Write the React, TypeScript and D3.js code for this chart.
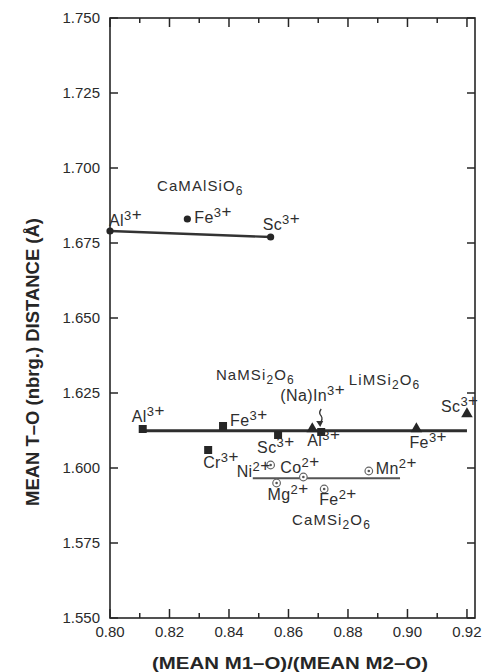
import { useEffect, useRef } from 'react';
import * as d3 from 'd3';

// CaMAlSiO6 (filled circles)
const alsiIons = ['Al', 'Fe', 'Sc'];
const alsiX = [0.8, 0.826, 0.854];
const alsiY = [1.679, 1.683, 1.677];

// NaMSi2O6 (squares)
const naIons = ['Al', 'Fe', 'Sc', 'Cr', '(Na)In'];
const naX = [0.811, 0.838, 0.8565, 0.833, 0.871];
const naY = [1.613, 1.614, 1.611, 1.606, 1.612];

// LiMSi2O6 (triangles)
const liIons = ['Al', 'Fe', 'Sc'];
const liX = [0.868, 0.903, 0.92];
const liY = [1.613, 1.613, 1.618];

// CaMSi2O6 (dotted circles)
const caIons = ['Ni', 'Co', 'Mg', 'Fe', 'Mn'];
const caX = [0.854, 0.865, 0.856, 0.872, 0.887];
const caY = [1.601, 1.597, 1.595, 1.593, 1.599];

// trend lines
const alsiLineX = [0.8, 0.854];
const alsiLineY = [1.679, 1.677];
const naLiLineX = [0.811, 0.92];
const naLiLineY = [1.6124, 1.6124];
const caLineX = [0.848, 0.8975];
const caLineY = [1.5966, 1.5966];

// group names
const groupNames = ['CaMAlSiO6', 'NaMSi2O6', 'LiMSi2O6', 'CaMSi2O6'];
const groupX = [0.8158, 0.8356, 0.8803, 0.8612];
const groupY = [1.6923, 1.6293, 1.6277, 1.581];

const yTicks = [1.55, 1.575, 1.6, 1.625, 1.65, 1.675, 1.7, 1.725, 1.75];
const xTicks = [0.8, 0.82, 0.84, 0.86, 0.88, 0.9, 0.92];
const xMinorTicks = [0.81, 0.83, 0.85, 0.87, 0.89, 0.91];

// label offsets (px) from each marker
const alsiOff = [[-1, -5], [7, 4], [-8, -7]];
const naOff = [[-11, -7], [7, 0], [-21, 18], [-5, 18], [-41, -31]];
const liOff = [[-5, 17], [-7, 19], [-26, -2]];
const caOff = [[-34, 12], [-23, -4], [-9, 17], [-5, 16], [7, 3]];

const FONT = "'Liberation Sans', Arial, Helvetica, sans-serif";
const INK = '#262626';

const App = () => {
  const ref = useRef<SVGSVGElement>(null);

  useEffect(() => {
    const svg = d3.select(ref.current);
    svg.selectAll('*').remove();

    const left = 110, right = 475, top = 18, bottom = 618;
    const x = d3.scaleLinear().domain([0.8, 0.9227]).range([left, right]);
    const y = d3.scaleLinear().domain([1.55, 1.75]).range([bottom, top]);

    svg.append('rect').attr('width', 483).attr('height', 672).attr('fill', '#fff');

    // frame
    svg.append('rect')
      .attr('x', left).attr('y', top)
      .attr('width', right - left).attr('height', bottom - top)
      .attr('fill', 'none').attr('stroke', INK).attr('stroke-width', 1.6);

    const ticks = svg.append('g').attr('stroke', INK).attr('stroke-width', 1.5);
    yTicks.forEach(t => {
      ticks.append('line').attr('x1', left).attr('x2', left + 8).attr('y1', y(t)).attr('y2', y(t));
      ticks.append('line').attr('x1', right).attr('x2', right - 8).attr('y1', y(t)).attr('y2', y(t));
    });
    xTicks.forEach(t => {
      ticks.append('line').attr('x1', x(t)).attr('x2', x(t)).attr('y1', bottom).attr('y2', bottom - 9);
      ticks.append('line').attr('x1', x(t)).attr('x2', x(t)).attr('y1', top).attr('y2', top + 9);
    });
    xMinorTicks.forEach(t => {
      ticks.append('line').attr('x1', x(t)).attr('x2', x(t)).attr('y1', bottom).attr('y2', bottom - 5);
      ticks.append('line').attr('x1', x(t)).attr('x2', x(t)).attr('y1', top).attr('y2', top + 5);
    });

    // tick labels
    svg.append('g').selectAll('text').data(yTicks).enter().append('text')
      .attr('x', 100).attr('y', d => y(d)).attr('dy', '0.35em')
      .attr('text-anchor', 'end').attr('font-family', FONT).attr('font-size', 15)
      .attr('fill', '#2a2a2a').text(d => d3.format('.3f')(d));
    svg.append('g').selectAll('text').data(xTicks).enter().append('text')
      .attr('x', d => x(d)).attr('y', 637)
      .attr('text-anchor', 'middle').attr('font-family', FONT).attr('font-size', 15)
      .attr('fill', '#2a2a2a').text(d => d3.format('.2f')(d));

    // axis titles
    svg.append('text')
      .attr('x', 290).attr('y', 669).attr('text-anchor', 'middle')
      .attr('font-family', FONT).attr('font-weight', 'bold').attr('font-size', 17)
      .attr('fill', INK).attr('textLength', 276).attr('lengthAdjust', 'spacingAndGlyphs')
      .text('(MEAN M1–O)/(MEAN M2–O)');
    svg.append('text')
      .attr('transform', 'translate(39,362) rotate(-90)').attr('text-anchor', 'middle')
      .attr('font-family', FONT).attr('font-weight', 'bold').attr('font-size', 18)
      .attr('fill', INK).attr('textLength', 288).attr('lengthAdjust', 'spacingAndGlyphs')
      .text('MEAN T–O (nbrg.) DISTANCE (Å)');

    // trend lines
    const line = d3.line<number>().x(d => d[0]).y(d => d[1]);
    const drawLine = (xs: number[], ys: number[], w: number, c: string) => {
      svg.append('path')
        .attr('d', line(xs.map((v, i) => [x(v), y(ys[i])]) as any))
        .attr('fill', 'none').attr('stroke', c).attr('stroke-width', w);
    };
    drawLine(alsiLineX, alsiLineY, 2.4, '#333');
    drawLine(naLiLineX, naLiLineY, 3, '#2e2e2e');
    drawLine(caLineX, caLineY, 2, '#555');

    // markers
    alsiX.forEach((v, i) => {
      svg.append('circle').attr('cx', x(v)).attr('cy', y(alsiY[i])).attr('r', 3.6).attr('fill', INK);
    });
    naX.forEach((v, i) => {
      svg.append('rect').attr('x', x(v) - 4).attr('y', y(naY[i]) - 4)
        .attr('width', 8).attr('height', 8).attr('fill', INK);
    });
    const tri = d3.symbol().type(d3.symbolTriangle).size(58);
    liX.forEach((v, i) => {
      svg.append('path').attr('d', tri() as string)
        .attr('transform', `translate(${x(v)},${y(liY[i])})`).attr('fill', INK);
    });
    caX.forEach((v, i) => {
      svg.append('circle').attr('cx', x(v)).attr('cy', y(caY[i])).attr('r', 3.8)
        .attr('fill', '#fff').attr('stroke', '#666').attr('stroke-width', 1.2);
      svg.append('circle').attr('cx', x(v)).attr('cy', y(caY[i])).attr('r', 1.3).attr('fill', '#555');
    });

    // ion labels with superscript charges
    const ionLabel = (px: number, py: number, ion: string, charge: string) => {
      const t = svg.append('text').attr('x', px).attr('y', py)
        .attr('font-family', FONT).attr('font-size', 16).attr('fill', '#2e2e2e')
        .attr('letter-spacing', 0.4);
      t.append('tspan').text(ion);
      t.append('tspan').attr('dy', -6).attr('font-size', 13).text(charge.replace('+', ''));
      t.append('tspan').attr('font-size', 17).text('+');
    };
    alsiIons.forEach((ion, i) =>
      ionLabel(x(alsiX[i]) + alsiOff[i][0], y(alsiY[i]) + alsiOff[i][1], ion, '3+'));
    naIons.forEach((ion, i) =>
      ionLabel(x(naX[i]) + naOff[i][0], y(naY[i]) + naOff[i][1], ion, '3+'));
    liIons.forEach((ion, i) =>
      ionLabel(x(liX[i]) + liOff[i][0], y(liY[i]) + liOff[i][1], ion, '3+'));
    caIons.forEach((ion, i) =>
      ionLabel(x(caX[i]) + caOff[i][0], y(caY[i]) + caOff[i][1], ion, '2+'));

    // arrow from (Na)In label to its marker
    const ax = x(naX[4]) - 1, ay = y(naY[4]);
    svg.append('path')
      .attr('d', `M${ax + 1},${ay - 23} q-3,4 0,7 q2,3 -1,7`)
      .attr('fill', 'none').attr('stroke', '#333').attr('stroke-width', 1.3);
    svg.append('path')
      .attr('d', `M${ax - 4},${ay - 11} L${ax},${ay - 5} L${ax + 3},${ay - 11} Z`)
      .attr('fill', '#333');

    // group names with subscripts
    groupNames.forEach((name, i) => {
      const t = svg.append('text').attr('x', x(groupX[i])).attr('y', y(groupY[i]))
        .attr('font-family', FONT).attr('font-size', 15).attr('fill', '#2e2e2e')
        .attr('letter-spacing', 1.1);
      const parts = name.match(/[A-Za-z]+|\d+/g) || [];
      let sub = false;
      parts.forEach(p => {
        const isNum = /\d/.test(p);
        const ts = t.append('tspan').text(p);
        if (isNum && !sub) { ts.attr('dy', 4).attr('font-size', 12); sub = true; }
        else if (!isNum && sub) { ts.attr('dy', -4); sub = false; }
      });
    });
  }, []);

  return (
    <svg ref={ref} width={483} height={672}
      style={{ position: 'absolute', left: 0, top: 0, display: 'block' }} />
  );
};

export default App;
